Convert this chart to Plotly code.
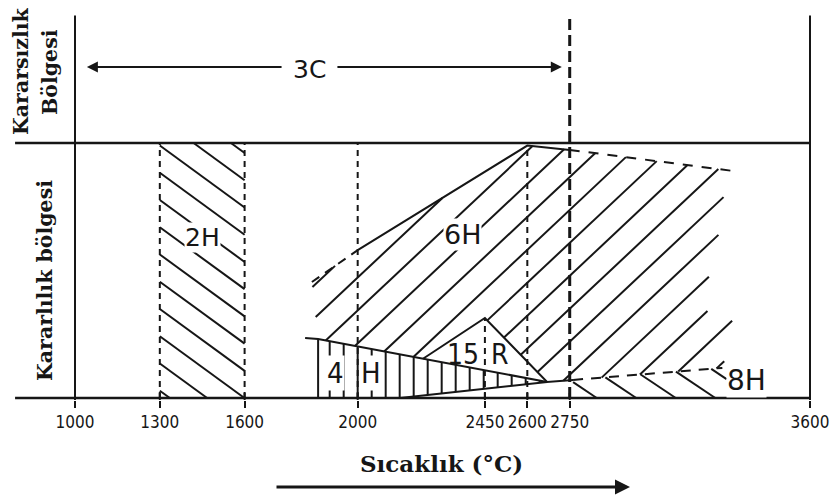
import math
import plotly.graph_objects as go

# ---------------- data ----------------
TICK_TEMPS = [1000, 1300, 1600, 2000, 2450, 2600, 2750, 3600]
TICK_TEXT = ["1000", "1300", "1600", "2000", "2450", "2600", "2750", "3600"]

T_LEFT, T_RIGHT = 1000, 3600          # frame of the diagram (°C)
LEVEL_BOUNDARY = 1.0                   # stable / unstable boundary
LEVEL_TOP = 1.5
LINE_START_T = 788                     # horizontal lines start left of 1000

C3_LEVEL = 1.298                       # 3C arrow (unstable region)
C3_ARROW_T = [1042, 2722]
C3_GAP_T = [1736, 1923]

H2_T = [1300, 1300, 1600, 1600]        # 2H region
H2_L = [0, 1, 1, 0]

H6_T = [1860, 1838, 2000, 2600, 2750, 3330, 3290, 3270, 3210, 3335, 3290, 2762, 2670, 2450, 2231]
H6_L = [0.231, 0.455, 0.58, 0.99, 0.973, 0.89, 0.776, 0.58, 0.353, 0.298, 0.118, 0.071, 0.063, 0.314, 0.154]

R15_T = [2231, 2450, 2670, 2762]        # 15R triangle outline
R15_L = [0.154, 0.314, 0.063, 0.071]

H4_T = [1860, 1860, 2670, 2150]         # 4H region
H4_L = [0, 0.231, 0.063, 0]
H4_TOP_T = [1814, 1860, 2670]
H4_TOP_L = [0.235, 0.231, 0.063]
LENS_T = [2150, 2670]
LENS_L = [0, 0.063]

H8_T = [2762, 3290, 3330, 2762]         # 8H region
H8_L = [0.071, 0.118, 0, 0]

H6_TAIL_T = [1838, 2000]                # dashed lower-left end of 6H boundary
H6_TAIL_L = [0.455, 0.58]
H6_EDGE_T = [2000, 2600, 2750]          # solid 6H boundary
H6_EDGE_L = [0.58, 0.99, 0.973]
H6_TOP_T = [2750, 3330]                 # dashed upper-right 6H boundary
H6_TOP_L = [0.973, 0.89]
H8_TOP_T = [2762, 3290]                 # dashed upper 8H boundary
H8_TOP_L = [0.071, 0.118]

# ---------------- layout constants ----------------
FIG_W, FIG_H = 836, 500
M_B = 100
X_RANGE = [734.70, 3691.98]
Y_RANGE = [-0.00784, 1.5608]
PLOT_H = FIG_H - M_B
KX = FIG_W / (X_RANGE[1] - X_RANGE[0])
KY = PLOT_H / (Y_RANGE[1] - Y_RANGE[0])

INK = "#161616"
NARROW = "Liberation Sans Narrow, DejaVu Sans Condensed, Arial Narrow, sans-serif"
HAND = "DejaVu Sans, sans-serif"
HAND_C = "DejaVu Sans Condensed, DejaVu Sans, sans-serif"
SERIF = "DejaVu Serif, serif"


def to_px(t, l):
    return ((t - X_RANGE[0]) * KX, (Y_RANGE[1] - l) * KY)


def from_px(x, y):
    return (X_RANGE[0] + x / KX, Y_RANGE[1] - y / KY)


def hatch(ts, ls, direction, spacing, through):
    pts = [to_px(t, l) for t, l in zip(ts, ls)]
    dx, dy = direction
    nrm = math.hypot(dx, dy)
    dx, dy = dx / nrm, dy / nrm
    nx, ny = -dy, dx
    ox, oy = to_px(*through)
    proj = [(x - ox) * nx + (y - oy) * ny for x, y in pts]
    k0 = math.ceil(min(proj) / spacing)
    k1 = math.floor(max(proj) / spacing)
    xs, ys = [], []
    n = len(pts)
    for k in range(k0, k1 + 1):
        c = k * spacing + 1e-6
        cuts = []
        for i in range(n):
            (ax_, ay_), (bx, by) = pts[i], pts[(i + 1) % n]
            fa, fb = proj[i] - c, proj[(i + 1) % n] - c
            if (fa > 0) != (fb > 0):
                s = fa / (fa - fb)
                px_, py_ = ax_ + s * (bx - ax_), ay_ + s * (by - ay_)
                cuts.append(((px_ - ox) * dx + (py_ - oy) * dy, px_, py_))
        cuts.sort()
        for j in range(0, len(cuts) - 1, 2):
            for _, px_, py_ in (cuts[j], cuts[j + 1]):
                t, l = from_px(px_, py_)
                xs.append(t)
                ys.append(l)
            xs.append(None)
            ys.append(None)
    return xs, ys


fig = go.Figure()


def add_line(xs, ys, width=2, dash="solid"):
    fig.add_trace(go.Scatter(x=xs, y=ys, mode="lines", hoverinfo="skip",
                             line=dict(color=INK, width=width, dash=dash)))


# hatching
add_line(*hatch(H2_T, H2_L, (1, 0.73), 22, (1300, 0.99)), width=2)
add_line(*hatch(H6_T, H6_L, (1, -0.94), 24, (2662, 0.129)), width=2)
add_line(*hatch(H8_T, H8_L, (1, 0.67), 22, (2875, 0.082)), width=2)
add_line(*hatch(H4_T, H4_L, (0, 1), 14, (2000, 0.1)), width=2)

# frame
add_line([T_LEFT, T_LEFT], [0, LEVEL_TOP], width=2)
add_line([T_RIGHT, T_RIGHT], [0, LEVEL_TOP], width=2)
add_line([LINE_START_T, T_RIGHT], [LEVEL_BOUNDARY, LEVEL_BOUNDARY], width=2.5)
add_line([LINE_START_T, T_RIGHT], [0, 0], width=2.5)

# small tick marks above the axis
tx, ty = [], []
for t in TICK_TEMPS:
    tx += [t, t, None]
    ty += [Y_RANGE[0], 0.02, None]
add_line(tx, ty, width=2)

# dashed temperature lines
for t in (1300, 1600, 2000):
    add_line([t, t], [0, LEVEL_BOUNDARY], width=2, dash="6px,5px")
add_line([2600, 2600], [0, 0.99], width=2, dash="6px,5px")
add_line([2450, 2450], [0, 0.314], width=2, dash="6px,5px")
add_line([2750, 2750], [0, LEVEL_TOP], width=3, dash="11px,5px")

# region boundaries
add_line(H6_TAIL_T, H6_TAIL_L, width=2, dash="9px,7px")
add_line(H6_EDGE_T, H6_EDGE_L, width=2)
add_line(H6_TOP_T, H6_TOP_L, width=2, dash="10px,9px")
add_line(R15_T, R15_L, width=2)
add_line(H4_TOP_T, H4_TOP_L, width=2)
add_line([1860, 1860], [0, 0.231], width=2)
add_line(LENS_T, LENS_L, width=2)
add_line(H8_TOP_T, H8_TOP_L, width=2, dash="10px,8px")

ann = []
# 3C arrows
for tip, tail in zip(C3_ARROW_T, C3_GAP_T):
    ann.append(dict(x=tip, y=C3_LEVEL, ax=tail, ay=C3_LEVEL, xref="x", yref="y",
                    axref="x", ayref="y", text="", showarrow=True, arrowhead=2,
                    arrowsize=1.1, arrowwidth=2, arrowcolor=INK, standoff=0))

REGION_LABELS = [
    ("3C", 1831, 1.29, 25, HAND, True),
    ("2H", 1450, 0.63, 25, HAND, True),
    ("6H", 2372, 0.64, 27, HAND, True),
    ("4", 1923, 0.098, 29, HAND_C, True),
    ("H", 2047, 0.098, 29, HAND_C, True),
    ("15", 2371, 0.172, 28, HAND_C, False),
    ("R", 2503, 0.172, 28, HAND_C, False),
    ("8H", 3377, 0.067, 28, HAND, True),
]
for txt, t, l, size, fam, bg in REGION_LABELS:
    ann.append(dict(x=t, y=l, xref="x", yref="y", text=txt, showarrow=False,
                    xanchor="center", yanchor="middle",
                    font=dict(family=fam, size=size, color=INK),
                    bgcolor="white" if bg else "rgba(0,0,0,0)", borderpad=0))

# axis title and arrow
ann.append(dict(x=441 / FIG_W, y=(PLOT_H - 463) / PLOT_H, xref="paper", yref="paper",
                xanchor="center", yanchor="middle",
                text="Sıcaklık (°C)", showarrow=False,
                font=dict(family=SERIF, size=23, color=INK, weight="bold")))
ann.append(dict(x=630 / FIG_W, y=(PLOT_H - 487) / PLOT_H, xref="paper", yref="paper",
                ax=-355, ay=0, text="", showarrow=True, arrowhead=2, arrowsize=1,
                arrowwidth=3, arrowcolor=INK, standoff=0))

# side labels
for txt, px, py in [("Kararsızlık", 21, 71), ("Bölgesi", 50, 72), ("Kararlılık bölgesi", 45, 281)]:
    ann.append(dict(x=px / FIG_W, y=(PLOT_H - py) / PLOT_H, xref="paper", yref="paper",
                    xanchor="center", yanchor="middle",
                    text=txt, textangle=-90, showarrow=False,
                    font=dict(family=SERIF, size=20.5, color=INK, weight="bold")))

fig.update_layout(
    width=FIG_W, height=FIG_H,
    margin=dict(l=0, r=0, t=0, b=M_B),
    paper_bgcolor="white", plot_bgcolor="white",
    showlegend=False,
    annotations=ann,
    xaxis=dict(range=X_RANGE, tickvals=TICK_TEMPS, ticktext=TICK_TEXT,
               ticks="outside", ticklen=7, tickwidth=2, tickcolor=INK,
               showgrid=False, zeroline=False, showline=False,
               tickfont=dict(family=NARROW, size=17, color=INK), fixedrange=True),
    yaxis=dict(range=Y_RANGE, visible=False, fixedrange=True),
)

fig.write_html("out.html")
